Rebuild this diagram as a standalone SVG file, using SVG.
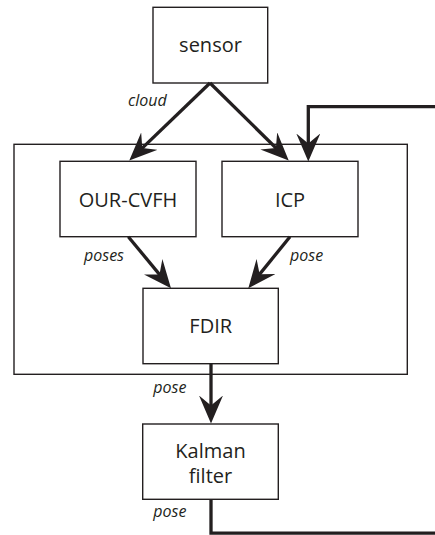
<svg xmlns="http://www.w3.org/2000/svg" width="435" height="535" viewBox="0 0 435 535">
<style>
.box{fill:#fff;stroke:#231f20;stroke-width:1.4}
.frame{fill:none;stroke:#231f20;stroke-width:1.4}
.lbl{font-family:"Open Sans","Liberation Sans",sans-serif;font-size:20px;fill:#231f20;text-anchor:middle}
.it{font-family:"Open Sans","Liberation Sans",sans-serif;font-size:16px;font-style:italic;fill:#231f20}
.conn{fill:none;stroke:#231f20;stroke-width:3.3;marker-end:url(#ah)}
.plain{fill:none;stroke:#231f20;stroke-width:3.3}
</style>
<defs>
<marker id="ah" markerUnits="userSpaceOnUse" viewBox="0 0 28 24" markerWidth="28" markerHeight="24" refX="18" refY="12" orient="auto">
<path d="M0,0 L28,12 L0,24 L10,12 Z" fill="#231f20"/>
</marker>
</defs>
<g id="container"><rect class="frame" x="14" y="144.3" width="393.3" height="230"/></g>
<g id="sensor"><rect class="box" x="153" y="7.3" width="114.7" height="75.7"/><text class="lbl" x="210.5" y="51.7">sensor</text></g>
<g id="ourcvfh"><rect class="box" x="60" y="161.3" width="136" height="75.4"/><text class="lbl" x="128" y="206.5">OUR-CVFH</text></g>
<g id="icp"><rect class="box" x="222" y="161.3" width="136" height="75.4"/><text class="lbl" x="290" y="206.5">ICP</text></g>
<g id="fdir"><rect class="box" x="143" y="288.3" width="135.3" height="75.4"/><text class="lbl" x="210.7" y="332.7">FDIR</text></g>
<g id="kalman"><rect class="box" x="142.7" y="424" width="135.6" height="75.3"/><text class="lbl" x="210.5" y="458.3">Kalman</text><text class="lbl" x="210.5" y="483.3">filter</text></g>
<g id="connectors">
<line class="conn" x1="210" y1="83" x2="136.5" y2="153.6"/>
<line class="conn" x1="210" y1="83" x2="281.6" y2="153.5"/>
<polyline class="conn" points="435,106.7 308.3,106.7 308.3,151.5"/>
<line class="conn" x1="128.3" y1="236.7" x2="164.6" y2="280.6"/>
<line class="conn" x1="290" y1="236.7" x2="254.6" y2="280.5"/>
<line class="conn" x1="211" y1="363.7" x2="211" y2="413.5"/>
<polyline class="plain" points="211,499.3 211,533.2 435,533.2"/>
<text class="it" x="128" y="106">cloud</text>
<text class="it" x="84" y="260.7">poses</text>
<text class="it" x="290" y="260.7">pose</text>
<text class="it" x="153.3" y="393.3">pose</text>
<text class="it" x="153.3" y="516.7">pose</text>
</g>
</svg>
